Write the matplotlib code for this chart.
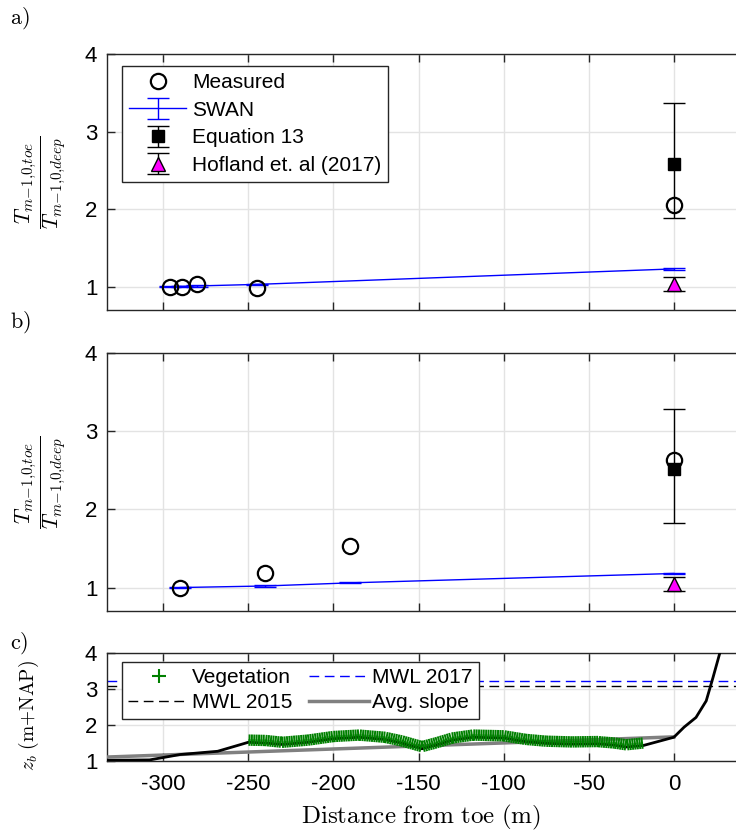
import numpy as np
import matplotlib
matplotlib.use('Agg')
import matplotlib.pyplot as plt
import matplotlib.patheffects as pe
from matplotlib.lines import Line2D

plt.rcParams['font.family'] = ['Liberation Sans', 'DejaVu Sans']
plt.rcParams['mathtext.fontset'] = 'cm'
plt.rcParams['axes.unicode_minus'] = False

# ---- panel a) ----
a_meas_x = [-296, -289, -280, -245, 0]
a_meas_y = [1.00, 1.00, 1.03, 0.99, 2.05]
a_swan_x = [-296, -289, -280, -245, 0]
a_swan_y = [1.00, 1.005, 1.01, 1.03, 1.23]
a_eq13_y, a_eq13_lo, a_eq13_hi = 2.58, 1.88, 3.37
a_hof_y, a_hof_err = 1.04, 0.09

# ---- panel b) ----
b_meas_x = [-290, -240, -190, 0]
b_meas_y = [1.00, 1.18, 1.53, 2.63]
b_swan_x = [-290, -240, -190, 0]
b_swan_y = [1.00, 1.02, 1.06, 1.18]
b_eq13_y, b_eq13_lo, b_eq13_hi = 2.51, 1.82, 3.28
b_hof_y, b_hof_err = 1.04, 0.09

# ---- panel c) ----
bed_x = [-333, -308, -290, -268, -255, -250, -240, -230, -215, -200, -185, -170,
         -160, -148, -140, -130, -118, -100, -87, -75, -60, -45, -35, -28, -18,
         0, 6, 13, 19, 23, 27, 31]
bed_z = [1.02, 1.03, 1.18, 1.27, 1.45, 1.52, 1.50, 1.46, 1.52, 1.62, 1.66, 1.60,
         1.50, 1.34, 1.44, 1.58, 1.66, 1.64, 1.54, 1.49, 1.47, 1.48, 1.44, 1.39, 1.43,
         1.66, 1.94, 2.21, 2.67, 3.32, 4.00, 4.80]
veg_x = [-250, -240, -230, -215, -200, -185, -170, -160, -148, -140, -130, -118,
         -100, -87, -75, -60, -45, -35, -28, -18]
veg_z = [1.58, 1.57, 1.52, 1.58, 1.68, 1.72, 1.66, 1.56, 1.40, 1.50, 1.64, 1.72,
         1.70, 1.60, 1.55, 1.53, 1.54, 1.50, 1.45, 1.50]
slope_x = [-333, 0]
slope_z = [1.11, 1.67]
mwl_2015 = 3.09
mwl_2017 = 3.21

xticks = [-300, -250, -200, -150, -100, -50, 0]
FS = 15
TFS = 16
grey_grid = '#e3e3e3'
green = '#008000'
ylab = r'$\dfrac{T_{m{-}1{,}0{,}toe}}{T_{m{-}1{,}0{,}deep}}$'

fig = plt.figure(figsize=(7.36, 8.32), dpi=100)
W, H = 736, 832
ax_a = fig.add_axes([107 / W, 1 - 310 / H, 629 / W, 256 / H])
ax_b = fig.add_axes([107 / W, 1 - 611 / H, 629 / W, 258 / H])
ax_c = fig.add_axes([107 / W, 1 - 761 / H, 629 / W, 108 / H])


def style(ax, ylim, yticks):
    ax.set_xlim(-333, 36.5)
    ax.set_ylim(*ylim)
    ax.set_xticks(xticks)
    ax.set_yticks(yticks)
    ax.grid(True, color=grey_grid, lw=1)
    ax.set_axisbelow(True)
    ax.spines['right'].set_visible(False)
    for s in ['left', 'top', 'bottom']:
        ax.spines[s].set_linewidth(1.0)
        ax.spines[s].set_color('#262626')
    ax.tick_params(direction='in', top=True, length=6, width=1,
                   labelsize=TFS, color='#262626')
    ax.tick_params(axis='y', pad=7)
    ax.tick_params(axis='x', pad=9)


def ratio_panel(ax, mx, my, sx, sy, eq, lo, hi, hof, hof_err, legend):
    ax.errorbar(sx, sy, yerr=0.008, color='#0000ff', lw=1, capsize=8,
                label='SWAN', zorder=3)
    ax.plot(mx, my, 'o', mfc='none', mec='black', ms=11, mew=1.6,
            label='Measured', zorder=4)
    ax.errorbar([0], [eq], yerr=[[eq - lo], [hi - eq]], fmt='s', color='black',
                ms=8, lw=1, capsize=8, label='Equation 13', zorder=3)
    ax.errorbar([0], [hof], yerr=hof_err, fmt='^', mfc='#ff00ff', mec='black',
                ecolor='black', ms=10, lw=1, capsize=8,
                label='Hofland et. al (2017)', zorder=3)
    style(ax, (0.7, 4), [1, 2, 3, 4])
    ax.set_xticklabels([])
    ax.set_ylabel(ylab, fontsize=15.5)
    ax.yaxis.set_label_coords(-0.062, 0.5)
    if legend:
        h, l = ax.get_legend_handles_labels()
        order = [l.index(n) for n in ['Measured', 'SWAN', 'Equation 13',
                                      'Hofland et. al (2017)']]
        leg = ax.legend([h[i] for i in order], [l[i] for i in order],
                        loc='upper left', bbox_to_anchor=(0.024, 0.953),
                        borderaxespad=0, fontsize=FS, handlelength=2.76,
                        handletextpad=0.27, labelspacing=0.42, borderpad=0.33,
                        fancybox=False, framealpha=1)
        leg.get_frame().set_edgecolor('#262626')
        leg.get_frame().set_linewidth(1)


ratio_panel(ax_a, a_meas_x, a_meas_y, a_swan_x, a_swan_y, a_eq13_y, a_eq13_lo,
            a_eq13_hi, a_hof_y, a_hof_err, True)
ratio_panel(ax_b, b_meas_x, b_meas_y, b_swan_x, b_swan_y, b_eq13_y, b_eq13_lo,
            b_eq13_hi, b_hof_y, b_hof_err, False)

# panel c
ax_c.axhline(mwl_2017, color='#0000ff', lw=1, dashes=(7, 4))
ax_c.axhline(mwl_2015, color='black', lw=1, dashes=(7, 4))
ax_c.plot(slope_x, slope_z, color='#808080', lw=2.5, zorder=3)
ax_c.plot(bed_x, bed_z, color='black', lw=2, zorder=4)
ax_c.plot(veg_x, veg_z, color=green, lw=1.4, zorder=5,
          path_effects=[pe.TickedStroke(spacing=1.7, angle=90, length=2.0),
                        pe.TickedStroke(spacing=1.7, angle=-90, length=2.0)])
style(ax_c, (1, 4), [1, 2, 3, 4])
ax_c.set_ylabel(r'$z_b\ \mathrm{(m{+}NAP)}$', fontsize=14)
ax_c.yaxis.set_label_coords(-0.105, 0.42)

handles = [Line2D([], [], ls='none', marker='+', color=green, ms=10, mew=1.5),
           Line2D([], [], color='black', lw=1, dashes=(7, 4)),
           Line2D([], [], color='#0000ff', lw=1, dashes=(7, 4)),
           Line2D([], [], color='#808080', lw=2.5)]
labels = ['Vegetation', 'MWL 2015', 'MWL 2017', 'Avg. slope']
leg = ax_c.legend(handles, labels, ncol=2, loc='upper left',
                  bbox_to_anchor=(0.024, 0.917), borderaxespad=0, fontsize=FS,
                  handlelength=2.9, handletextpad=0.17, labelspacing=0.3,
                  borderpad=0.3, columnspacing=0.76, fancybox=False,
                  framealpha=1)
leg.get_frame().set_edgecolor('#262626')
leg.get_frame().set_linewidth(1)
leg.set_zorder(10)

fig.text(421 / W, 1 - 817 / H, r'$\mathrm{Distance\ from\ toe\ (m)}$',
         ha='center', va='center', fontsize=18)
for lab, y in [('a)', 18), ('b)', 322), ('c)', 643)]:
    fig.text(10 / W, 1 - y / H, r'$\mathrm{' + lab + '}$', ha='left',
             va='center', fontsize=16)

fig.savefig('out.png', dpi=100)
